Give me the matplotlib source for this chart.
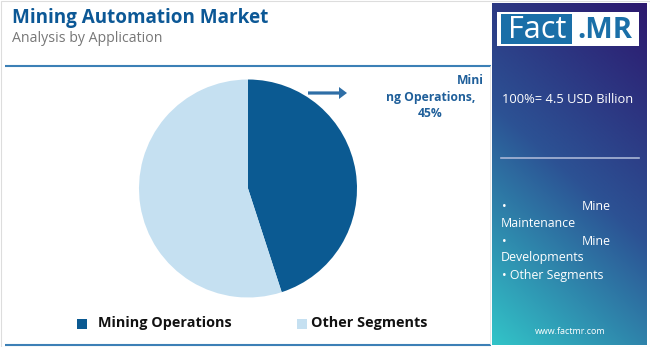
import numpy as np
import matplotlib
matplotlib.use("Agg")
import matplotlib.pyplot as plt
from matplotlib.patches import Rectangle, FancyArrow

# ---- data ----
categories = ["Mining Operations", "Other Segments"]
shares = [45, 55]
colors = ["#0b5a92", "#c5e0f1"]
title = "Mining Automation Market"
subtitle = "Analysis by Application"
total_text = "100%= 4.5 USD Billion"
other_segments = ["Mine Maintenance", "Mine Developments", "Other Segments"]

W, H = 650, 347
fig = plt.figure(figsize=(W / 100, H / 100), dpi=100)
fig.patch.set_facecolor("white")

bg = fig.add_axes([0, 0, 1, 1])
bg.set_xlim(0, W)
bg.set_ylim(H, 0)
bg.axis("off")

FONT = "Open Sans"

# outer faint border
bg.add_patch(Rectangle((0.5, 0.5), W - 1, H - 1, fill=False, ec="#dddddd", lw=0.8))

# title & subtitle
bg.text(12, 18, title, fontsize=13.6, fontweight="bold", color="#0c5896",
        family=FONT, va="center", ha="left")
bg.text(12, 38, subtitle, fontsize=10.2, color="#777777", family=FONT,
        va="center", ha="left")

# horizontal rules
bg.plot([5, 491], [66, 66], color="#3c80b6", lw=1.5, solid_capstyle="butt")
bg.plot([5, 491], [344.5, 344.5], color="#3c80b6", lw=1.5, solid_capstyle="butt")
bg.plot([490, 490], [66, 344], color="#e4e4e4", lw=0.6)

# ---- right panel gradient ----
px0, px1, py0, py1 = 492, 647, 3, 345
nh, nw = 200, 100
yy, xx = np.mgrid[0:1:nh * 1j, 0:1:nw * 1j]
d = (yy + 0.4 * (1 - xx)) / 1.4
stops = [0.0, 0.5, 1.0]
cols = np.array([[44, 24, 110], [44, 82, 148], [50, 196, 200]]) / 255
img = np.stack([np.interp(d, stops, cols[:, k]) for k in range(3)], axis=-1)
bg.imshow(img, extent=[px0, px1, py1, py0], aspect="auto", interpolation="bilinear", zorder=1)

# logo
bg.add_patch(Rectangle((497, 12), 142, 34, fc="white", ec="none", zorder=2))
bg.add_patch(Rectangle((501, 14), 71, 30, fc="#1a6fa8", ec="none", zorder=3))
bg.text(537, 30, "Fact", fontsize=22, color="white", family=FONT,
        ha="center", va="center", zorder=4)
bg.text(605, 30, ".MR", fontsize=21, color="#1a6fa8", family=FONT,
        fontweight="bold", ha="center", va="center", zorder=4)

bg.text(502, 99, total_text, fontsize=9.3, color="white", family=FONT,
        ha="left", va="center", zorder=4)
bg.plot([501, 639], [158, 158], color="#a9b6d6", lw=1.2, zorder=4)

# bullet list (justified-looking lines)
FS = 8.9
seg_words = [s.split(" ", 1) for s in other_segments]
ys = [206, 223, 241, 258, 276]
bg.text(502, ys[0], "\u2022", fontsize=FS, color="white", family=FONT, ha="left", va="center", zorder=4)
bg.text(611, ys[0], seg_words[0][0], fontsize=FS, color="white", family=FONT, ha="right", va="center", zorder=4)
bg.text(501, ys[1], seg_words[0][1], fontsize=FS, color="white", family=FONT, ha="left", va="center", zorder=4)
bg.text(502, ys[2], "\u2022", fontsize=FS, color="white", family=FONT, ha="left", va="center", zorder=4)
bg.text(611, ys[2], seg_words[1][0], fontsize=FS, color="white", family=FONT, ha="right", va="center", zorder=4)
bg.text(501, ys[3], seg_words[1][1], fontsize=FS, color="white", family=FONT, ha="left", va="center", zorder=4)
bg.text(502, ys[4], "\u2022 " + other_segments[2], fontsize=FS, color="white", family=FONT,
        ha="left", va="center", zorder=4)
bg.text(570, 331, "www.factmr.com", fontsize=6.4, color="white", family=FONT,
        ha="center", va="center", zorder=4)

# ---- pie ----
cx, cy, r = 248, 188.5, 109
pax = fig.add_axes([(cx - r) / W, (H - cy - r) / H, 2 * r / W, 2 * r / H])
pax.pie(shares, colors=colors, startangle=90, counterclock=False,
        wedgeprops=dict(linewidth=0))
pax.set_xlim(-1, 1)
pax.set_ylim(-1, 1)
pax.axis("off")

# arrow + label
bg.add_patch(FancyArrow(308, 93, 31, 0, width=3.2, head_width=12, head_length=8,
                        length_includes_head=False, fc="#2e6ea6", ec="none", zorder=3))
lab = f"{categories[0]}, {shares[0]}%"
LFS = 8.7
bg.text(484, 80, lab[:4], fontsize=LFS, fontweight="bold", color="#1f5f9a",
        family=FONT, ha="right", va="center")
bg.text(431, 97, lab[4:lab.index(",") + 1], fontsize=LFS, fontweight="bold", color="#1f5f9a",
        family=FONT, ha="center", va="center")
bg.text(430, 113, f"{shares[0]}%", fontsize=LFS, fontweight="bold", color="#1f5f9a",
        family=FONT, ha="center", va="center")

# legend
bg.add_patch(Rectangle((77, 319), 9.5, 9.5, fc=colors[0], ec="none"))
bg.text(98, 323.5, categories[0], fontsize=10.4, fontweight="bold", color="#111111",
        family=FONT, ha="left", va="center")
bg.add_patch(Rectangle((297, 319), 9.5, 9.5, fc=colors[1], ec="none"))
bg.text(311, 323.5, categories[1], fontsize=10.4, fontweight="bold", color="#111111",
        family=FONT, ha="left", va="center")

fig.savefig("out.png", dpi=100, facecolor="white")
